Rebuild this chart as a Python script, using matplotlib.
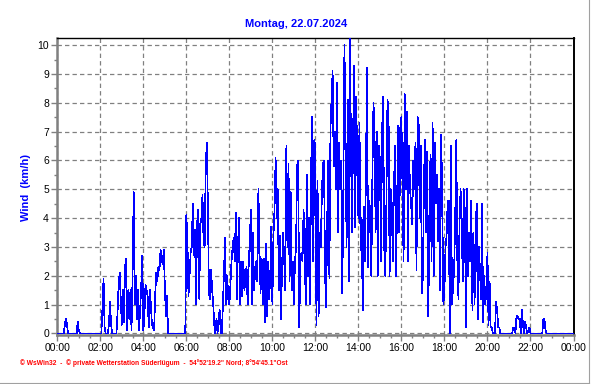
import numpy as np
import matplotlib
matplotlib.use('Agg')
import matplotlib.pyplot as plt
from matplotlib.lines import Line2D
from matplotlib.ticker import MultipleLocator

plt.rcParams['font.family'] = ['Liberation Sans', 'DejaVu Sans']

# Wind speed (km/h), one sample every 3 minutes, one list per hour
wind_h00 = [0, 0, 0, 0, 0, 0, 0, 0.3, 0.5, 0.3, 0, 0, 0, 0, 0, 0, 0, 0, 0, 0.4]
wind_h01 = [0.1, 0, 0, 0, 0, 0, 0, 0, 0, 0, 0, 0, 0, 0, 0, 0, 0, 0, 0, 0]
wind_h02 = [0, 0, 0.9, 1.9, 0.2, 0, 0, 0, 0.3, 1.1, 0.3, 0, 0, 0, 0, 0, 0.7, 1.7, 2.1, 1.2]
wind_h03 = [0.3, 1.5, 0.4, 2.3, 2.6, 0.1, 1.5, 0.5, 1.5, 0.1, 2.0, 4.9, 1.0, 2.0, 0.5, 1.5, 0.1, 0.8, 1.6, 2.7]
wind_h04 = [0.1, 0.6, 1.7, 1.5, 1.3, 0.2, 1.5, 1.0, 0.3, 0.2, 0.1, 1.3, 2.1, 1.8, 2.3, 2.2, 2.9, 2.6, 2.4, 2.9]
wind_h05 = [1.6, 0.6, 1.3, 0, 0, 0, 0, 0, 0, 0, 0, 0, 0, 0, 0, 0, 0, 0, 0, 0]
wind_h06 = [4.1, 3.2, 1.3, 2.0, 2.8, 3.0, 4.5, 2.7, 3.6, 1.0, 3.8, 4.3, 1.2, 3.8, 4.0, 4.8, 3.2, 3.0, 5.8, 6.6]
wind_h07 = [4.5, 1.4, 1.2, 2.2, 1.5, 1.0, 0.3, 0, 0.5, 0, 0.6, 0.8, 0, 0, 1.0, 2.2, 3.3, 1.0, 2.0, 1.2]
wind_h08 = [1.0, 1.7, 2.5, 3.0, 3.3, 2.5, 4.2, 1.2, 3.0, 4.0, 1.0, 2.5, 1.3, 2.5, 1.5, 2.0, 2.3, 1.0, 2.4, 3.2]
wind_h09 = [4.3, 1.0, 3.5, 1.5, 2.2, 2.5, 1.8, 5.0, 2.9, 1.4, 2.6, 1.0, 2.6, 0.4, 3.1, 0.6, 2.5, 1.2, 2.0, 3.7]
wind_h10 = [1.0, 3.4, 4.3, 6.1, 4.0, 5.0, 1.5, 3.4, 0.5, 2.3, 3.5, 2.5, 1.5, 6.5, 3.0, 5.9, 1.8, 4.9, 1.5, 2.5]
wind_h11 = [1.0, 2.5, 3.0, 5.8, 6.0, 0.2, 2.5, 2.8, 2.5, 4.3, 3.0, 1.0, 5.5, 2.0, 4.0, 1.0, 5.7, 7.5, 2.5, 6.7]
wind_h12 = [6.4, 0.3, 5.3, 0.6, 3.5, 3.0, 4.8, 5.9, 6.0, 2.0, 0.9, 4.0, 6.0, 1.9, 7.1, 8.1, 9.1, 5.8, 7.0, 5.0]
wind_h13 = [8.7, 3.5, 6.6, 5.0, 6.0, 1.4, 5.0, 10.0, 7.0, 3.0, 8.1, 1.8, 10.3, 7.0, 3.5, 6.7, 9.3, 3.7, 8.2, 5.5]
wind_h14 = [4.0, 7.3, 2.9, 4.0, 0.8, 4.4, 2.5, 5.6, 9.2, 2.3, 4.6, 4.2, 2.0, 5.5, 8.0, 7.0, 3.5, 7.0, 2.0, 6.5]
wind_h15 = [6.0, 2.5, 7.0, 8.2, 3.0, 2.0, 4.5, 8.1, 7.9, 2.0, 5.0, 4.5, 2.5, 5.0, 6.5, 2.0, 4.5, 7.2, 3.5, 7.2]
wind_h16 = [7.5, 5.0, 2.5, 8.3, 5.0, 7.7, 2.5, 6.5, 5.0, 4.5, 3.8, 6.0, 5.0, 6.6, 2.2, 7.5, 7.3, 4.0, 6.5, 1.4]
wind_h17 = [2.0, 5.5, 6.7, 3.5, 6.3, 0.6, 4.0, 6.2, 2.5, 7.3, 2.0, 6.6, 4.5, 5.5, 3.2, 5.0, 1.5, 6.9, 4.5, 1.0]
wind_h18 = [1.5, 3.0, 3.4, 4.6, 4.6, 0.0, 6.5, 1.0, 1.6, 2.2, 4.0, 6.7, 2.5, 1.2, 3.8, 5.0, 4.0, 1.8, 5.0, 4.2]
wind_h19 = [0.2, 5.0, 2.0, 3.5, 2.5, 4.6, 0.8, 3.5, 1.0, 3.7, 4.5, 0.5, 3.0, 2.2, 1.2, 4.5, 0.4, 2.0, 1.0, 1.5]
wind_h20 = [2.8, 0.3, 1.8, 0.2, 0.2, 0, 0, 0, 1.1, 0.8, 0.2, 0.2, 0, 0, 0, 0, 0, 0, 0, 0]
wind_h21 = [0, 0, 0, 0, 0.2, 0.2, 0, 0.6, 0.6, 0.5, 0.5, 0, 0.8, 0.3, 0, 0.4, 0.2, 0, 0.1, 0.2]
wind_h22 = [0, 0, 0, 0, 0, 0, 0, 0, 0, 0, 0, 0, 0.5, 0.5, 0.1, 0, 0, 0, 0, 0]
wind_h23 = [0, 0, 0, 0, 0, 0, 0, 0, 0, 0, 0, 0, 0, 0, 0, 0, 0, 0, 0, 0]
wind_midnight = [0]

hour_labels = ['00:00', '02:00', '04:00', '06:00', '08:00', '10:00', '12:00',
               '14:00', '16:00', '18:00', '20:00', '22:00', '00:00']
y_ticks = [0, 1, 2, 3, 4, 5, 6, 7, 8, 9, 10]
title_text = 'Montag, 22.07.2024'
ylabel_text = 'Wind  (km/h)'
footer_text = ('\u00a9 WsWin32  -  \u00a9 private Wetterstation S\u00fcderl\u00fcgum  -  '
               '54\u00b052\'19.2" Nord; 8\u00b054\'45.1"Ost')

wind = np.array(wind_h00 + wind_h01 + wind_h02 + wind_h03 + wind_h04 + wind_h05
                + wind_h06 + wind_h07 + wind_h08 + wind_h09 + wind_h10 + wind_h11
                + wind_h12 + wind_h13 + wind_h14 + wind_h15 + wind_h16 + wind_h17
                + wind_h18 + wind_h19 + wind_h20 + wind_h21 + wind_h22 + wind_h23
                + wind_midnight)
hours = np.arange(len(wind)) * 3 / 60

W, H = 592, 384
fig = plt.figure(figsize=(W / 100, H / 100), dpi=100)
ax = fig.add_axes([57.3 / W, 1 - 334.5 / H, (573.5 - 57.3) / W, (334.5 - 38.3) / H])

ax.plot(hours, wind, color='#0000ff', lw=0.5, antialiased=False, zorder=3)

ax.set_xlim(0, 24)
ax.set_ylim(-0.04, 10.24)
ax.set_xticks(range(0, 25, 2))
ax.set_xticklabels(hour_labels)
ax.xaxis.set_minor_locator(MultipleLocator(0.5))
ax.set_yticks(y_ticks)
ax.yaxis.set_minor_locator(MultipleLocator(0.5))
ax.grid(True, which='major', color='#808080', linestyle=(0, (3.5, 2.5)), lw=0.9)

ax.tick_params(axis='both', which='major', color='#808080', length=4, width=1,
               labelsize=7.5, pad=2)
ax.tick_params(axis='both', which='minor', color='#808080', length=2, width=1)

for side in ['left', 'bottom']:
    ax.spines[side].set_color('#808080')
    ax.spines[side].set_linewidth(1.8)
ax.spines['top'].set_color('black')
ax.spines['top'].set_linewidth(1.0)
ax.spines['right'].set_color('black')
ax.spines['right'].set_linewidth(1.4)

fig.text(0.5, 1 - 24 / H, title_text, color='#0000ff', fontsize=8, fontweight='bold',
         ha='center', va='center')
fig.text(26 / W, 1 - 188 / H, ylabel_text, color='#0000ff', fontsize=8, fontweight='bold',
         rotation=90, ha='center', va='center')
fig.text(20 / W, 1 - 363 / H, footer_text, color='#ff0000', fontsize=4.8, fontweight='bold',
         ha='left', va='center')

# window frame
fig.add_artist(Line2D([588.5 / W, 588.5 / W], [1 - 382.5 / H, 1], transform=fig.transFigure,
                      color='#a0a0a0', lw=0.8))
fig.add_artist(Line2D([0, 588.5 / W], [1 - 382.5 / H, 1 - 382.5 / H], transform=fig.transFigure,
                      color='#a0a0a0', lw=0.8))

fig.savefig('out.png', dpi=100)
